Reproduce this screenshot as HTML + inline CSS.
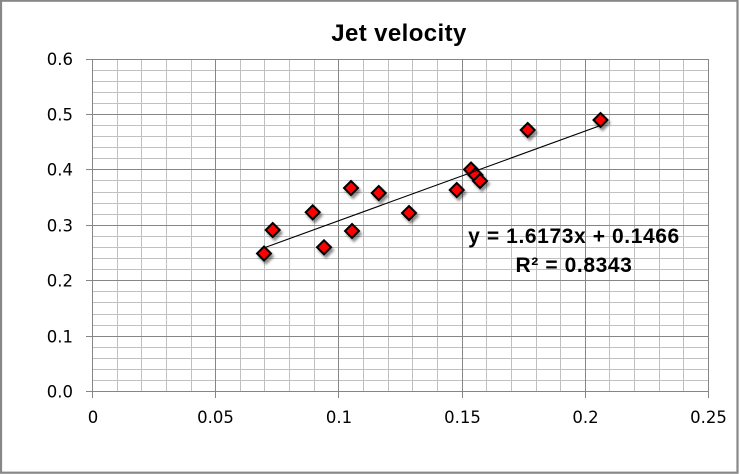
<!DOCTYPE html>
<html><head><meta charset="utf-8"><style>
html,body{margin:0;padding:0;background:#fff;}
svg{display:block;}
</style></head><body>
<svg width="740" height="474" viewBox="0 0 740 474" xmlns="http://www.w3.org/2000/svg">
<defs>
<filter id="sh" x="-50%" y="-50%" width="200%" height="200%">
<feDropShadow dx="2" dy="3" stdDeviation="1.3" flood-color="#000" flood-opacity="0.45"/>
</filter>
</defs>
<rect x="0" y="0" width="740" height="474" fill="#fff"/>
<rect x="1" y="0.7" width="736.5" height="472" fill="none" stroke="#878787" stroke-width="2.2"/>
<g shape-rendering="crispEdges" stroke-width="1">
<g stroke="#c0c0c0">
<line x1="92" x2="709" y1="380.5" y2="380.5"/><line x1="92" x2="709" y1="369.5" y2="369.5"/><line x1="92" x2="709" y1="358.5" y2="358.5"/><line x1="92" x2="709" y1="347.5" y2="347.5"/>
<line x1="92" x2="709" y1="325.5" y2="325.5"/><line x1="92" x2="709" y1="314.5" y2="314.5"/><line x1="92" x2="709" y1="302.5" y2="302.5"/><line x1="92" x2="709" y1="291.5" y2="291.5"/>
<line x1="92" x2="709" y1="269.5" y2="269.5"/><line x1="92" x2="709" y1="258.5" y2="258.5"/><line x1="92" x2="709" y1="247.5" y2="247.5"/><line x1="92" x2="709" y1="236.5" y2="236.5"/>
<line x1="92" x2="709" y1="214.5" y2="214.5"/><line x1="92" x2="709" y1="203.5" y2="203.5"/><line x1="92" x2="709" y1="192.5" y2="192.5"/><line x1="92" x2="709" y1="180.5" y2="180.5"/>
<line x1="92" x2="709" y1="158.5" y2="158.5"/><line x1="92" x2="709" y1="147.5" y2="147.5"/><line x1="92" x2="709" y1="136.5" y2="136.5"/><line x1="92" x2="709" y1="125.5" y2="125.5"/>
<line x1="92" x2="709" y1="103.5" y2="103.5"/><line x1="92" x2="709" y1="92.5" y2="92.5"/><line x1="92" x2="709" y1="81.5" y2="81.5"/><line x1="92" x2="709" y1="70.5" y2="70.5"/>
<line y1="59" y2="392" x1="117.5" x2="117.5"/><line y1="59" y2="392" x1="141.5" x2="141.5"/><line y1="59" y2="392" x1="166.5" x2="166.5"/><line y1="59" y2="392" x1="191.5" x2="191.5"/>
<line y1="59" y2="392" x1="240.5" x2="240.5"/><line y1="59" y2="392" x1="264.5" x2="264.5"/><line y1="59" y2="392" x1="289.5" x2="289.5"/><line y1="59" y2="392" x1="314.5" x2="314.5"/>
<line y1="59" y2="392" x1="363.5" x2="363.5"/><line y1="59" y2="392" x1="388.5" x2="388.5"/><line y1="59" y2="392" x1="412.5" x2="412.5"/><line y1="59" y2="392" x1="437.5" x2="437.5"/>
<line y1="59" y2="392" x1="486.5" x2="486.5"/><line y1="59" y2="392" x1="511.5" x2="511.5"/><line y1="59" y2="392" x1="536.5" x2="536.5"/><line y1="59" y2="392" x1="560.5" x2="560.5"/>
<line y1="59" y2="392" x1="609.5" x2="609.5"/><line y1="59" y2="392" x1="634.5" x2="634.5"/><line y1="59" y2="392" x1="659.5" x2="659.5"/><line y1="59" y2="392" x1="683.5" x2="683.5"/>
</g>
<g stroke="#868686">
<line x1="86" x2="709" y1="391.5" y2="391.5"/><line x1="86" x2="709" y1="336.5" y2="336.5"/><line x1="86" x2="709" y1="280.5" y2="280.5"/><line x1="86" x2="709" y1="225.5" y2="225.5"/>
<line x1="86" x2="709" y1="169.5" y2="169.5"/><line x1="86" x2="709" y1="114.5" y2="114.5"/><line x1="86" x2="709" y1="59.5" y2="59.5"/>
<line y1="59" y2="398" x1="92.5" x2="92.5"/><line y1="59" y2="398" x1="215.5" x2="215.5"/><line y1="59" y2="398" x1="338.5" x2="338.5"/>
<line y1="59" y2="398" x1="462.5" x2="462.5"/><line y1="59" y2="398" x1="585.5" x2="585.5"/><line y1="59" y2="398" x1="708.5" x2="708.5"/>
</g>
</g>
<g font-family="'DejaVu Sans', 'Liberation Sans', sans-serif" font-size="16.5" fill="#000">
<g text-anchor="end">
<text x="73" y="397.5">0.0</text><text x="73" y="342.5">0.1</text><text x="73" y="286.5">0.2</text><text x="73" y="231.5">0.3</text>
<text x="73" y="175.5">0.4</text><text x="73" y="120.5">0.5</text><text x="73" y="65">0.6</text>
</g>
<g text-anchor="middle">
<text x="93" y="423">0</text><text x="215.5" y="423">0.05</text><text x="339" y="423">0.1</text>
<text x="462.5" y="423">0.15</text><text x="585.5" y="423">0.2</text><text x="708.5" y="423">0.25</text>
</g>
</g>
<text x="399" y="41" text-anchor="middle" font-family="'Liberation Sans', sans-serif" font-weight="bold" font-size="24" letter-spacing="0.4" fill="#000">Jet velocity</text>
<g fill="#ff0000" stroke="#000" stroke-width="2" stroke-linejoin="miter" filter="url(#sh)">
<path d="M264 246.5 L271 253.5 L264 260.5 L257 253.5 Z"/>
<path d="M272.7 223 L279.7 230 L272.7 237 L265.7 230 Z"/>
<path d="M312.7 205.3 L319.7 212.3 L312.7 219.3 L305.7 212.3 Z"/>
<path d="M324 240.3 L331 247.3 L324 254.3 L317 247.3 Z"/>
<path d="M351 181 L358 188 L351 195 L344 188 Z"/>
<path d="M352 224 L359 231 L352 238 L345 231 Z"/>
<path d="M378.7 186 L385.7 193 L378.7 200 L371.7 193 Z"/>
<path d="M409 206 L416 213 L409 220 L402 213 Z"/>
<path d="M456.7 183 L463.7 190 L456.7 197 L449.7 190 Z"/>
<path d="M471 162.5 L478 169.5 L471 176.5 L464 169.5 Z"/>
<path d="M475.5 168 L482.5 175 L475.5 182 L468.5 175 Z"/>
<path d="M480 174 L487 181 L480 188 L473 181 Z"/>
<path d="M527.7 123 L534.7 130 L527.7 137 L520.7 130 Z"/>
<path d="M600.5 113 L607.5 120 L600.5 127 L593.5 120 Z"/>
</g>
<line x1="264" y1="247.9" x2="600.5" y2="125.5" stroke="#000" stroke-width="1.1"/>
<g font-family="'Liberation Sans', sans-serif" font-weight="bold" font-size="21" fill="#000" text-anchor="middle" letter-spacing="0.6">
<text x="574" y="243">y = 1.6173x + 0.1466</text>
<text x="574" y="272">R² = 0.8343</text>
</g>
</svg>
</body></html>
